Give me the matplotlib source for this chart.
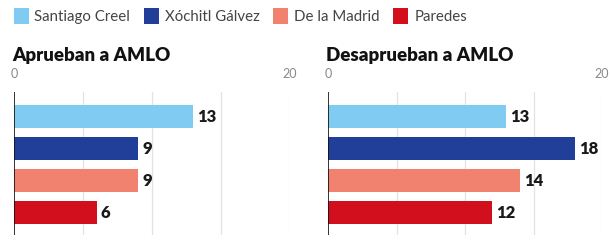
import matplotlib
matplotlib.use("Agg")
import matplotlib.pyplot as plt
from matplotlib.patches import Patch

candidates = ["Santiago Creel", "Xóchitl Gálvez", "De la Madrid", "Paredes"]
colors = ["#7fcbf2", "#213e98", "#f0826f", "#d20f1c"]
aprueban = [13, 9, 9, 6]
desaprueban = [13, 18, 14, 12]
titles = ["Aprueban a AMLO", "Desaprueban a AMLO"]

plt.rcParams['font.family'] = ['Lato', 'DejaVu Sans']

fig = plt.figure(figsize=(6.1, 2.42), dpi=100)
W, H = 610, 242


def panel(x0, x1, y_top, y_bot, values, title):
    ax = fig.add_axes([x0 / W, 1 - y_bot / H, (x1 - x0) / W, (y_bot - y_top) / H])
    pos = range(len(values))
    ax.barh(pos, values, height=0.72, color=colors, zorder=2)
    for p, v in zip(pos, values):
        ax.text(v + 0.3, p, str(v), va='center', ha='left',
                fontsize=12, fontweight='heavy', color='#1a1a1a')
    ax.set_xlim(0, 20)
    ax.set_ylim(3.70, -0.77)
    for g in [5, 10, 15, 20]:
        ax.axvline(g, color='#e2e2e2', linewidth=0.9, zorder=0)
    ax.axvline(0, color='#111111', linewidth=1.2, zorder=3)
    ax.xaxis.tick_top()
    ax.set_xticks([0, 20], labels=['0', '20'])
    ax.tick_params(axis='x', length=0, pad=9, labelsize=9, labelcolor='#888888')
    ax.set_yticks([])
    for s in ax.spines.values():
        s.set_visible(False)
    fig.text(x0 / W - 0.003, 1 - 55 / H, title, fontsize=13.5,
             fontweight='heavy', va='center', ha='left', color='#111111')
    return ax


panel(14, 290, 92, 235, aprueban, titles[0])
panel(328, 602, 92, 235, desaprueban, titles[1])

handles = [Patch(facecolor=c, edgecolor='none') for c in colors]
fig.legend(handles, candidates, loc='center left', bbox_to_anchor=(0.0, 1 - 16 / H),
           ncol=4, frameon=False, fontsize=10.8, handlelength=1.0, handleheight=1.3,
           handletextpad=0.4, columnspacing=0.9, labelcolor='#444444')

fig.savefig("out.png", dpi=100)
